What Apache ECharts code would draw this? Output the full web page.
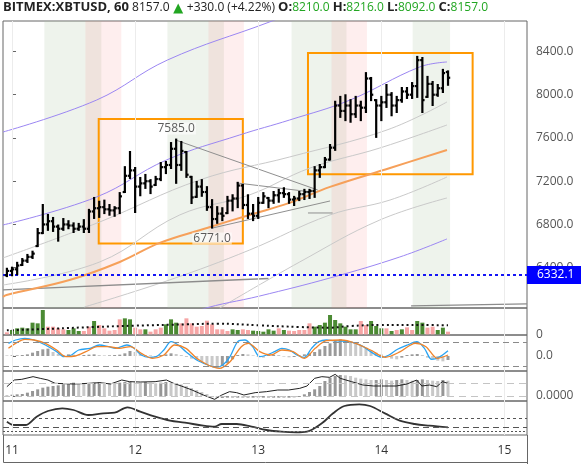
<!DOCTYPE html>
<html><head><meta charset="utf-8">
<script src="https://cdn.jsdelivr.net/npm/echarts@6/dist/echarts.min.js"></script>
<style>html,body{margin:0;padding:0;background:#fff}#c{width:581px;height:464px}</style>
</head><body><div id="c"></div><script>
// ---------- DATA ----------
const dayTicks = [0, 24, 48, 72, 96];
const dayLabels = ['11', '12', '13', '14', '15'];
const priceTicks = [6400, 6800, 7200, 7600, 8000, 8400];
const headerSymbol = 'BITMEX:XBTUSD, 60';
const headerChange = '+330.0 (+4.22%)';
const barHour = Array.from({length: 87}, (_, i) => i - 1);
const barOpen = [6330,6370,6385,6425,6465,6500,6600,6720,6800,6830,6780,
 6760,6800,6790,6760,6780,6760,6920,6950,6960,6940,
 6930,6950,7100,7250,7300,7150,7180,7200,7165,7220,
 7330,7350,7500,7350,7470,7240,7055,7150,7100,6960,
 6850,6900,6905,7020,7040,7160,6980,6900,6880,7000,
 7045,7020,7070,7090,7080,7030,7040,7080,7100,7110,
 7300,7330,7400,7510,7900,7850,7900,7820,7900,7880,
 8150,7950,7900,7930,8000,7900,7950,8030,8000,8080,
 8320,7980,8100,8000,8060,8210];
const barHigh = [6390,6400,6445,6480,6518,6548,6758,6980,6888,6860,6790,
 6850,6830,6810,6805,6840,6935,7045,7010,7020,6980,
 6960,7090,7330,7470,7322,7230,7258,7210,7240,7368,
 7378,7553,7585,7563,7470,7240,7193,7210,7145,7025,
 6960,6950,7055,7070,7185,7165,7070,6980,7045,7090,
 7045,7100,7120,7135,7090,7055,7100,7120,7120,7330,
 7350,7415,7535,7935,7980,7995,7950,7980,7935,8200,
 8155,7950,7980,8090,8015,7980,8062,8062,8108,8350,
 8340,8165,8118,8090,8230,8216];
const barLow = [6322,6330,6340,6425,6453,6490,6600,6720,6750,6740,6650,
 6750,6765,6730,6750,6730,6730,6860,6870,6905,6890,
 6880,6905,7100,7230,6915,7070,7138,7090,7165,7210,
 7275,7322,7185,7305,7240,6998,7055,7065,6935,6771,
 6815,6840,6905,6930,6960,6950,6860,6840,6860,7000,
 6960,7000,7010,7055,7000,6980,7025,7035,7045,7055,
 7240,7330,7400,7490,7795,7765,7750,7795,7765,7840,
 7950,7610,7765,7887,7810,7840,7935,7970,7970,7980,
 7840,7980,7905,7990,8025,8092];
const barClose = [6370,6385,6420,6465,6500,6530,6720,6800,6830,6780,6760,
 6800,6790,6760,6780,6760,6920,6950,6960,6940,6930,
 6950,7060,7250,7300,7150,7180,7200,7150,7220,7330,
 7350,7500,7350,7480,7260,7050,7150,7100,6960,6850,
 6900,6880,7020,7040,7160,6980,6900,6880,7000,7060,
 7020,7070,7090,7080,7030,7040,7080,7100,7110,7300,
 7330,7400,7510,7900,7850,7900,7820,7900,7880,8150,
 8000,7900,7930,8000,7900,7950,8030,8000,8080,8320,
 7950,8100,8000,8060,8200,8157];
const volume = [6,13,18,20,18,35,33,73,23,23,18,15,13,18,10,10,23,40,28,18,11,
 13,45,48,45,20,15,15,8,15,20,30,45,35,33,48,33,23,25,41,30,15,15,10,
 15,13,15,13,11,10,8,15,11,18,13,11,10,13,13,33,23,28,35,58,43,33,23,15,15,40,28,40,25,18,18,10,13,15,21,13,40,35,20,23,13,20,8];
const volumeDir = 'duuuuuuudddduuudduddddduudduddduuudddddddddduudduuuuududdddduuuuuuuuudduuudududduudduuddddduudud';
const volumeMA = [[-1,12],[8,17],[16,22],[24,26],[34,30],[40,32],[48,27],[56,22],[62,20],[66,25],[72,28],[80,28],[85,27]];
const maOrange = [[-1.76,6130],[-1.07,6148],[11.2,6286],[21,6453],[28.8,6629],[38,6767],[46.3,6888],[54.1,6999],[62,7147],[73.7,7322],[84.8,7489]];
const purpleUpper = [[-1.76,7655],[16.5,7951],[30.3,8321],[50.2,8673],[56.1,8784]];
const purpleMid = [[-1.76,6795],[16.5,7054],[30.1,7396],[44.4,7628],[54.1,7766],[65.9,7951],[79.5,8257],[84.8,8303]];
const purpleLow = [[34.6,5935],[36.6,6009],[48.3,6138],[62,6305],[75.6,6499],[84.8,6666]];
const grayLine1 = [[-1.76,6490],[17.1,6823],[36.6,7212],[54.1,7424],[73.1,7674],[84.8,7933]];
const grayLine2 = [[-1.76,6240],[17.1,6453],[32.7,6888],[46.3,7073],[58.1,7322],[71.7,7507],[84.8,7720]];
const grayLine3 = [[14.1,6036],[30.7,6286],[46.3,6563],[62,6888],[73.7,7026],[84.8,7239]];
const grayLine4 = [[40.5,6027],[56.1,6453],[71.7,6841],[84.8,7045]];
const longLineA = [[-1.76,6194],[43,6286],[50,6300]];
const longLineB = [[77.8,6046],[100.4,6065]];
const trendPeak = [[31.9,7581],[59.6,7119]];
const trendMid = [[43.8,7184],[58.4,7100]];
const trendLow = [[39.1,6767],[62,7017]];
const trendFlat = [[57.7,6906],[62.5,6906]];
const boxes = [[16.9,7776,45.0,6624],[57.7,8386,89.8,7264]];
const peakLabels = [[32,7585,'top'],[39,6771,'bottom']];
const sessionGreen = [[6.3,17.4],[30.3,41.3],[54.5,65.2],[78.1,85.4]];
const sessionPink = [[14.3,21.3],[38.3,45.2],[62.3,69.2]];
const alertLevel = 6332.1;
const stochK = [[-0.7,38],[0.7,48],[2.5,53],[4.3,48],[6.5,33],[8.7,13],[10.1,-2],[11.6,3],[13,18],[15.2,23],[17,33],[18.8,28],[20.2,23],[22.4,33],[23.8,23],[25.2,3],[26.7,-4],[28.1,-2],[29.6,18],[31,43],[32.4,33],[33.9,13],[36,-12],[38.2,-27],[39.7,-34],[41.1,-27],[42.5,-2],[44,43],[45.4,48],[46.9,28],[48.3,-2],[49.7,3],[51.2,13],[52.6,23],[54.1,18],[55.5,3],[57,-4],[58.4,23],[59.8,43],[61.3,48],[62.7,46],[64.2,45],[65.6,43],[67,38],[68.5,28],[69.9,13],[72.1,-4],[73.5,3],[74.9,18],[77.1,33],[78.9,43],[80.4,23],[81.8,-10],[83.2,-4],[85,16]];
const stochD = [[-0.7,23],[0.7,38],[2.5,50],[4.3,48],[6.5,38],[8.7,18],[10.5,-2],[12.3,0],[14.4,13],[16.6,28],[18.8,28],[20.9,23],[23.1,28],[25.2,8],[27.4,-7],[29.6,3],[31.7,33],[33.9,23],[36,-7],[38.2,-27],[40.4,-37],[42.5,-17],[44.7,28],[46.1,38],[48.3,13],[50.5,3],[52.6,18],[54.8,13],[57,-7],[59.1,23],[61.3,46],[64.2,48],[67,38],[69.9,18],[72.8,-4],[75.7,13],[78.6,38],[80.7,28],[82.9,-7],[85,3]];
const stochHist = [2,2,2,3,5,10,15,20,22,12,6,3,5,4,2,3,4,5,3,2,2,3,4,8,15,12,6,3,2,-3,3,5,8,6,3,-3,-8,-12,-18,-25,-32,-34,-30,-22,-10,3,6,5,2,-3,-5,3,4,3,-2,-4,-3,2,5,8,12,20,30,38,45,50,48,42,38,30,25,18,10,5,-3,-8,-10,-5,3,5,6,3,-5,-10,-14,-16,-12];
const stochLevels = [40, -32];
const oscLine = [[-1,28],[0.45,48],[1.9,50],[4.1,58],[5.5,53],[7,48],[8.4,38],[12,36],[14.9,38],[17.1,40],[19.2,36],[21.4,48],[22.9,43],[25,42],[27.9,43],[30.1,48],[31.5,38],[33,30],[35.1,18],[37.3,3],[39.5,-10],[40.9,3],[42.4,13],[43.8,10],[45.2,3],[47.4,10],[49.6,13],[51.8,18],[53.9,18],[56.1,23],[57.5,30],[59,53],[60.4,58],[61.9,56],[63,65],[64,53],[66.2,43],[68.4,33],[70.5,30],[72.7,30],[74.9,30],[77,36],[78.9,48],[79.9,30],[81.4,33],[82.8,28],[83.9,43],[85,38]];
const oscHist = [3,4,5,6,10,15,20,25,28,30,32,35,38,40,38,36,38,40,42,40,38,36,40,42,43,42,40,42,40,38,40,42,40,38,35,30,24,18,12,6,-4,-6,-6,-5,-6,-5,-6,-5,-5,-6,-5,-6,-5,-5,-6,-5,-4,-3,5,12,20,30,45,55,60,63,62,60,55,52,50,48,48,50,48,46,48,50,48,46,48,50,48,46,45,48,46];
const oscLevels = [38, 0];
const rsiLine = [[-1,40],[0.45,30],[2.6,30],[4.8,55],[7,72],[9.8,80],[12,75],[14.9,60],[17.8,65],[20,67],[22.5,83],[25,70],[27.9,55],[30.8,43],[33.7,37],[37.3,28],[39.5,25],[40.9,33],[43.8,33],[46.7,25],[49.6,15],[52.5,10],[55.4,8],[57.5,10],[60.4,35],[62.6,65],[64.8,87],[67.7,92],[69.8,87],[72.7,65],[75.6,43],[78.5,33],[81.4,28],[85,23]];
const rsiLevels = [50, 24, 12];

// ---------- LAYOUT ----------
const FONT = 'Open Sans';
const xMin = -1.76, xMax = 100.4;
const grids = [
  {left: 3, right: 54, top: 21, height: 287},
  {left: 3, right: 54, top: 308, height: 27},
  {left: 3, right: 54, top: 335, height: 36},
  {left: 3, right: 54, top: 371, height: 30},
  {left: 3, right: 54, top: 401, height: 34}
].map(g => Object.assign({show: true, borderColor: '#666', borderWidth: 1, backgroundColor: 'transparent'}, g));

const n = barHour.length;
const ohlc = barHour.map((h, i) => [h, barOpen[i], barHigh[i], barLow[i], barClose[i]]);
const last = n - 1;

function dayLines() {
  return dayTicks.map(v => ({xAxis: v, lineStyle: {color: '#ececec', width: 1, type: 'solid'}, label: {show: false}}));
}
function levelLines(levels, color, type) {
  return levels.map(v => ({yAxis: v, lineStyle: {color: color, width: 1, type: type}, label: {show: false}}));
}
function lineSeries(data, color, width, gi, z, extra) {
  return Object.assign({type: 'line', data: data, xAxisIndex: gi, yAxisIndex: gi, symbol: 'none', smooth: 0.4,
    lineStyle: {color: color, width: width}, silent: true, z: z, clip: true}, extra || {});
}
function histColor(arr, i, up, down) {
  return (i > 0 && arr[i] >= arr[i - 1]) ? up : down;
}

// header: measure text to place the up-triangle glyph
const GREEN = '#22a622';
const closeTxt = barClose[last].toFixed(1);
const header = '{b|' + headerSymbol + '}{s| }{n|' + closeTxt + '}{s| }{t| }{s| }{n|' + headerChange + '}{s| }'
  + '{b|O:}{g|' + barOpen[last].toFixed(1) + '}{s| }{b|H:}{g|' + barHigh[last].toFixed(1) + '}{s| }'
  + '{b|L:}{g|' + barLow[last].toFixed(1) + '}{s| }{b|C:}{g|' + barClose[last].toFixed(1) + '}';
const mctx = document.createElement('canvas').getContext('2d');
function tw(txt, font) { mctx.font = font; return mctx.measureText(txt).width; }
const triX = 3 + tw(headerSymbol, 'bold 13px "Open Sans"') + 2 * tw(' ', '12px "Open Sans"') + tw(closeTxt, '12px "Open Sans"');
const TRI_W = 11;

const xAxes = [0, 1, 2, 3, 4].map(i => ({
  type: 'value', gridIndex: i, min: xMin, max: xMax,
  axisLine: {show: false}, axisTick: {show: false}, splitLine: {show: false},
  axisLabel: i === 4 ? {customValues: dayTicks, formatter: v => dayLabels[dayTicks.indexOf(v)], color: '#333', fontSize: 12, margin: 10, fontFamily: FONT} : {show: false}
}));
function yAx(i, min, max, ticks, fmt) {
  return {
    type: 'value', gridIndex: i, position: 'right', min: min, max: max,
    axisLine: {show: false}, splitLine: {show: false},
    axisTick: ticks ? {show: true, customValues: ticks, length: 4, lineStyle: {color: '#666'}} : {show: false},
    axisLabel: ticks ? {customValues: ticks, formatter: fmt, color: '#555', fontSize: 12, margin: 9, fontFamily: FONT} : {show: false}
  };
}
const yAxes = [
  yAx(0, 6027, 8682, priceTicks, v => v.toFixed(1)),
  yAx(1, -2, 79, [0], v => '0'),
  yAx(2, -45, 63, [0], v => '0.0'),
  yAx(3, -15, 75, [0], v => '0.0000'),
  yAx(4, 0, 102, null)
];

const series = [];
series.push(lineSeries(grayLine1, '#c9c9c9', 1, 0, 1, {
  markArea: {silent: true, data: sessionGreen.map(s => [{xAxis: s[0], itemStyle: {color: 'rgba(170,195,160,0.2)'}}, {xAxis: s[1]}])
    .concat(sessionPink.map(s => [{xAxis: s[0], itemStyle: {color: 'rgba(250,120,120,0.13)'}}, {xAxis: s[1]}]))},
  markLine: {silent: true, symbol: ['none', 'none'], data: dayLines()}
}));
series.push(lineSeries(grayLine2, '#c9c9c9', 1, 0, 2));
series.push(lineSeries(grayLine3, '#c9c9c9', 1, 0, 2));
series.push(lineSeries(grayLine4, '#c9c9c9', 1, 0, 2));
series.push(lineSeries(longLineA, '#8c8c8c', 1.3, 0, 2, {smooth: false}));
series.push(lineSeries(longLineB, '#8c8c8c', 1.3, 0, 2, {smooth: false}));
series.push(lineSeries(purpleUpper, '#9b86f2', 1, 0, 3));
series.push(lineSeries(purpleMid, '#9b86f2', 1, 0, 3));
series.push(lineSeries(purpleLow, '#9b86f2', 1, 0, 3));
series.push(lineSeries(maOrange, '#f6a05a', 2, 0, 3, {
  markLine: {silent: true, symbol: ['none', 'none'], data: [
    {yAxis: alertLevel, lineStyle: {color: '#1515f5', width: 2, type: [3, 3]},
     label: {show: true, position: 'end', distance: 0, formatter: alertLevel.toFixed(1), color: '#fff', backgroundColor: '#0000ff',
       padding: [2, 8, 2, 10], fontSize: 12, lineHeight: 14, fontFamily: FONT}},
    {yAxis: barClose[last], lineStyle: {opacity: 0},
     label: {show: true, position: 'end', distance: 0, formatter: barClose[last].toFixed(1), color: '#fff', backgroundColor: '#000',
       padding: [0, 8, 0, 10], fontSize: 12, lineHeight: 13, fontWeight: 'bold', fontFamily: FONT}}
  ]}
}));
series.push(lineSeries(trendPeak, '#8f8f8f', 1, 0, 4, {smooth: false,
  markArea: {silent: true, data: boxes.map(b => [{coord: [b[0], b[1]], itemStyle: {color: 'rgba(0,0,0,0)', borderColor: '#ff9800', borderWidth: 2}}, {coord: [b[2], b[3]]}])}
}));
series.push(lineSeries(trendMid, '#8f8f8f', 1, 0, 4, {smooth: false}));
series.push(lineSeries(trendLow, '#8f8f8f', 1, 0, 4, {smooth: false}));
series.push(lineSeries(trendFlat, '#8f8f8f', 1, 0, 4, {smooth: false}));
series.push({
  type: 'custom', xAxisIndex: 0, yAxisIndex: 0, z: 6, silent: true, data: ohlc,
  encode: {x: 0, y: [1, 2, 3, 4]},
  renderItem: function (params, api) {
    const x = api.value(0);
    const pH = api.coord([x, api.value(2)]), pL = api.coord([x, api.value(3)]);
    const pO = api.coord([x, api.value(1)]), pC = api.coord([x, api.value(4)]);
    const st = {stroke: '#000', lineWidth: 2.2};
    return {type: 'group', children: [
      {type: 'line', shape: {x1: pH[0], y1: pH[1] - 1, x2: pL[0], y2: pL[1] + 1}, style: st},
      {type: 'line', shape: {x1: pO[0] - 2.2, y1: pO[1], x2: pO[0], y2: pO[1]}, style: st},
      {type: 'line', shape: {x1: pC[0], y1: pC[1], x2: pC[0] + 2.2, y2: pC[1]}, style: st}
    ]};
  }
});
series.push({
  type: 'scatter', xAxisIndex: 0, yAxisIndex: 0, z: 7, silent: true, symbolSize: 2,
  itemStyle: {color: 'rgba(0,0,0,0)'},
  data: peakLabels.map(p => ({value: [p[0], p[1]], label: {show: true, position: p[2]}})),
  label: {show: true, distance: 4, color: '#333', fontSize: 12, fontFamily: FONT, formatter: p => p.value[1].toFixed(1),
    backgroundColor: 'rgba(255,255,255,0.75)', padding: [0, 1]},
  labelLayout: {hideOverlap: false}
});

// volume panel
series.push({
  type: 'bar', xAxisIndex: 1, yAxisIndex: 1, barWidth: 4, silent: true, z: 2,
  data: barHour.map((h, i) => ({value: [h, volume[i]], itemStyle: {color: volumeDir[i] === 'u' ? '#4b8a33' : '#f6a5a5'}})),
  markLine: {silent: true, symbol: ['none', 'none'], data: dayLines()}
});
series.push(lineSeries(volumeMA, '#111', 2, 1, 3, {lineStyle: {color: '#111', width: 2, type: [2, 3]}}));

// momentum panel
series.push({
  type: 'bar', xAxisIndex: 2, yAxisIndex: 2, barWidth: 3, silent: true, z: 2,
  data: barHour.map((h, i) => ({value: [h, stochHist[i]], itemStyle: {color: histColor(stochHist, i, '#9a9a9a', '#c9c9c9')}})),
  markLine: {silent: true, symbol: ['none', 'none'], data: dayLines().concat(levelLines(stochLevels, '#8a8a8a', [6, 4]))}
});
series.push(lineSeries(stochK, '#29a3f2', 1.3, 2, 3, {smooth: 0.3}));
series.push(lineSeries(stochD, '#f0842a', 1.3, 2, 4, {smooth: 0.3}));

// oscillator panel
series.push({
  type: 'bar', xAxisIndex: 3, yAxisIndex: 3, barWidth: 3, silent: true, z: 2,
  data: barHour.map((h, i) => ({value: [h, oscHist[i]], itemStyle: {color: histColor(oscHist, i, '#969696', '#c8c8c8')}})),
  markLine: {silent: true, symbol: ['none', 'none'], data: dayLines().concat(levelLines(oscLevels, '#c4c4c4', [7, 5]))}
});
series.push(lineSeries(oscLine, '#222', 1, 3, 3, {smooth: false}));

// bottom panel
series.push(lineSeries(rsiLine, '#333', 1.8, 4, 3, {smooth: 0.35,
  markLine: {silent: true, symbol: ['none', 'none'], data: dayLines()
    .concat([{yAxis: rsiLevels[0], lineStyle: {color: '#555', width: 1, type: [3, 3]}, label: {show: false}},
             {yAxis: rsiLevels[1], lineStyle: {color: '#555', width: 1, type: [6, 4]}, label: {show: false}},
             {yAxis: rsiLevels[2], lineStyle: {color: '#555', width: 1, type: [2, 2]}, label: {show: false}}])}
}));

const chart = echarts.init(document.getElementById('c'), null, {renderer: 'canvas'});
chart.setOption({
  animation: false,
  backgroundColor: '#fff',
  textStyle: {fontFamily: FONT},
  title: {
    left: 3, top: 1, padding: 0, text: header,
    textStyle: {fontFamily: FONT, fontSize: 12, fontWeight: 'normal', color: '#222', rich: {
      b: {fontWeight: 'bold', fontSize: 13, color: '#222', fontFamily: FONT},
      n: {fontSize: 12, color: '#222', fontFamily: FONT},
      s: {fontSize: 12, color: '#222', fontFamily: FONT},
      t: {fontSize: 12, width: TRI_W, color: GREEN, fontFamily: FONT},
      g: {fontSize: 12, color: GREEN, fontFamily: FONT}
    }}
  },
  grid: grids,
  xAxis: xAxes,
  yAxis: yAxes,
  series: series,
  graphic: [
    {type: 'polygon', shape: {points: [[triX + 0.5, 13.5], [triX + TRI_W - 0.5, 13.5], [triX + TRI_W / 2, 3.5]]}, style: {fill: GREEN}, silent: true},
    {type: 'line', shape: {x1: 3.5, y1: 462.5, x2: 527.5, y2: 462.5}, style: {stroke: '#666', lineWidth: 1}, silent: true},
    {type: 'line', shape: {x1: 3.5, y1: 435, x2: 3.5, y2: 462.5}, style: {stroke: '#666', lineWidth: 1}, silent: true},
    {type: 'line', shape: {x1: 527.5, y1: 435, x2: 527.5, y2: 464}, style: {stroke: '#666', lineWidth: 1}, silent: true}
  ]
});
</script></body></html>
